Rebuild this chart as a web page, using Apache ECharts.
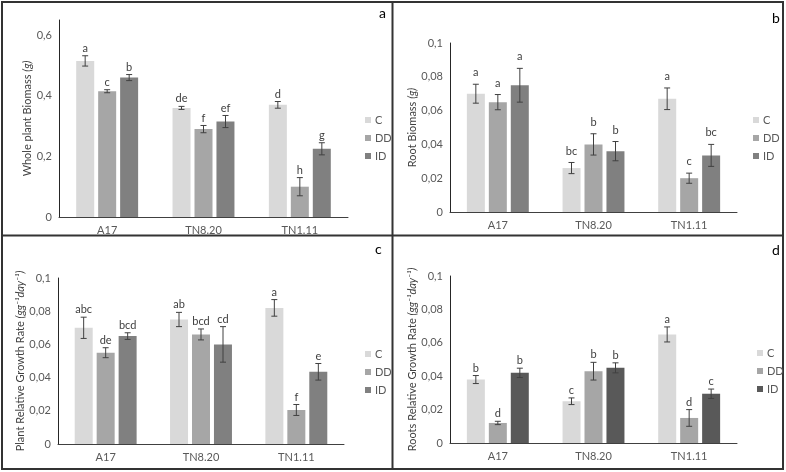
<!DOCTYPE html>
<html>
<head>
<meta charset="utf-8">
<title>Biomass and growth rate</title>
<script src="https://cdn.jsdelivr.net/npm/echarts@6/dist/echarts.min.js"></script>
<style>
  html, body { margin: 0; padding: 0; background: #fff; }
  #chart { width: 786px; height: 472px; }
</style>
</head>
<body>
<div id="chart"></div>
<script>
// categories and treatments
var categories = ['A17', 'TN8.20', 'TN1.11'];
var treatments = ['C', 'DD', 'ID'];

// a - whole plant biomass (g)
var wholeC = [0.515, 0.36, 0.37];
var wholeDD = [0.415, 0.29, 0.10];
var wholeID = [0.46, 0.315, 0.225];
var wholeErrC = [0.017, 0.005, 0.011];
var wholeErrDD = [0.005, 0.012, 0.03];
var wholeErrID = [0.01, 0.02, 0.02];
var wholeLetC = ['a', 'de', 'd'];
var wholeLetDD = ['c', 'f', 'h'];
var wholeLetID = ['b', 'ef', 'g'];

// b - root biomass (g)
var rootC = [0.07, 0.026, 0.067];
var rootDD = [0.065, 0.04, 0.02];
var rootID = [0.075, 0.036, 0.0335];
var rootErrC = [0.0056, 0.0033, 0.0064];
var rootErrDD = [0.0045, 0.0063, 0.003];
var rootErrID = [0.01, 0.0057, 0.0065];
var rootLetC = ['a', 'bc', 'a'];
var rootLetDD = ['a', 'b', 'c'];
var rootLetID = ['a', 'b', 'bc'];

// c - plant relative growth rate
var prgrC = [0.07, 0.075, 0.082];
var prgrDD = [0.055, 0.066, 0.0205];
var prgrID = [0.065, 0.06, 0.0435];
var prgrErrC = [0.0064, 0.0043, 0.005];
var prgrErrDD = [0.003, 0.0033, 0.0033];
var prgrErrID = [0.002, 0.0107, 0.005];
var prgrLetC = ['abc', 'ab', 'a'];
var prgrLetDD = ['de', 'bcd', 'f'];
var prgrLetID = ['bcd', 'cd', 'e'];

// d - roots relative growth rate
var rrgrC = [0.038, 0.025, 0.065];
var rrgrDD = [0.012, 0.043, 0.015];
var rrgrID = [0.042, 0.045, 0.0295];
var rrgrErrC = [0.0024, 0.002, 0.0045];
var rrgrErrDD = [0.001, 0.0053, 0.005];
var rrgrErrID = [0.0028, 0.003, 0.0028];
var rrgrLetC = ['b', 'c', 'a'];
var rrgrLetDD = ['d', 'b', 'd'];
var rrgrLetID = ['b', 'b', 'c'];

var fontFam = 'Lato, "Noto Sans", sans-serif';
var textGray = '#595959';
var barW = 18, barStep = 22;

var panels = [
  { name: 'Whole plant Biomass ', unit: '(g)', max: 0.65, interval: 0.2,
    grid: { left: 59, top: 20, width: 289, height: 197 }, nameGap: 26,
    legend: { left: 360, top: 109 }, tag: 'a', tagPos: [383, 15], letGap: 2,
    colors: ['#d9d9d9', '#a6a6a6', '#808080'],
    means: [wholeC, wholeDD, wholeID], errs: [wholeErrC, wholeErrDD, wholeErrID],
    lets: [wholeLetC, wholeLetDD, wholeLetID] },
  { name: 'Root Biomass ', unit: '(g)', max: 0.1, interval: 0.02,
    grid: { left: 450, top: 43, width: 287, height: 169 }, nameGap: 29,
    legend: { left: 748, top: 109 }, tag: 'b', tagPos: [776, 20], letGap: 6,
    colors: ['#d9d9d9', '#a6a6a6', '#808080'],
    means: [rootC, rootDD, rootID], errs: [rootErrC, rootErrDD, rootErrID],
    lets: [rootLetC, rootLetDD, rootLetID] },
  { name: 'Plant Relative Growth Rate ', unit: '(gg\u207B\u00B9day\u207B\u00B9)', max: 0.1, interval: 0.02,
    grid: { left: 58, top: 278, width: 286, height: 166 }, nameGap: 27,
    legend: { left: 360, top: 343 }, tag: 'c', tagPos: [379, 251], letGap: 2,
    colors: ['#d9d9d9', '#a6a6a6', '#808080'],
    means: [prgrC, prgrDD, prgrID], errs: [prgrErrC, prgrErrDD, prgrErrID],
    lets: [prgrLetC, prgrLetDD, prgrLetID] },
  { name: 'Roots Relative Growth Rate ', unit: '(gg\u207B\u00B9day\u207B\u00B9)', max: 0.1, interval: 0.02,
    grid: { left: 450, top: 276, width: 287, height: 167 }, nameGap: 28,
    legend: { left: 752, top: 342 }, tag: 'd', tagPos: [776, 252], letGap: 2,
    colors: ['#d9d9d9', '#a6a6a6', '#595959'],
    means: [rrgrC, rrgrDD, rrgrID], errs: [rrgrErrC, rrgrErrDD, rrgrErrID],
    lets: [rrgrLetC, rrgrLetDD, rrgrLetID] }
];

function labelFmt(step) {
  return function (v) {
    var r = v / step;
    if (Math.abs(r - Math.round(r)) > 1e-6) return '';
    return String(+v.toFixed(3)).replace('.', ',');
  };
}

var grids = [], xAxes = [], yAxes = [], series = [], legends = [], graphics = [];

panels.forEach(function (p, pi) {
  grids.push(p.grid);
  xAxes.push({
    type: 'category', gridIndex: pi, data: categories,
    axisLine: { lineStyle: { color: '#404040', width: 1 } },
    axisTick: { show: false },
    axisLabel: { color: textGray, fontSize: 11, fontFamily: fontFam, margin: 8 }
  });
  yAxes.push({
    type: 'value', gridIndex: pi, min: 0, max: p.max, interval: p.interval,
    splitLine: { show: false },
    axisLine: { show: true, lineStyle: { color: '#262626', width: 1 } },
    axisTick: { show: false },
    axisLabel: { color: textGray, fontSize: 11, fontFamily: fontFam, margin: 7,
      formatter: labelFmt(p.interval) },
    name: '{n|' + p.name + '}{u|' + p.unit + '}',
    nameLocation: 'middle', nameGap: p.nameGap,
    nameTextStyle: {
      rich: {
        n: { color: '#404040', fontSize: 11, fontFamily: fontFam },
        u: { color: '#404040', fontSize: 11, fontFamily: fontFam, fontStyle: 'italic' }
      }
    }
  });
  treatments.forEach(function (t, k) {
    series.push({
      type: 'bar', name: t, xAxisIndex: pi, yAxisIndex: pi,
      data: p.means[k], barWidth: barW, barGap: '22%',
      itemStyle: { color: p.colors[k] },
      emphasis: { disabled: true }
    });
  });
  treatments.forEach(function (t, k) {
    var offset = (k - 1) * barStep;
    var letters = p.lets[k];
    series.push({
      type: 'custom', name: t + '-err', xAxisIndex: pi, yAxisIndex: pi, z: 5,
      data: p.means[k].map(function (m, i) { return [i, m, p.errs[k][i]]; }),
      encode: { x: 0, y: 1 },
      renderItem: function (params, api) {
        var cat = api.value(0), m = api.value(1), e = api.value(2);
        var top = api.coord([cat, m + e]);
        var bot = api.coord([cat, m - e]);
        var x = top[0] + offset;
        var st = { stroke: '#404040', lineWidth: 1 };
        return { type: 'group', children: [
          { type: 'line', shape: { x1: x, y1: top[1], x2: x, y2: bot[1] }, style: st },
          { type: 'line', shape: { x1: x - 3, y1: top[1], x2: x + 3, y2: top[1] }, style: st },
          { type: 'line', shape: { x1: x - 3, y1: bot[1], x2: x + 3, y2: bot[1] }, style: st },
          { type: 'text', style: { text: letters[params.dataIndex], x: x, y: top[1] - p.letGap,
              align: 'center', verticalAlign: 'bottom', fill: '#404040',
              font: '11px ' + fontFam } }
        ] };
      }
    });
  });
  legends.push({
    orient: 'vertical', left: p.legend.left, top: p.legend.top,
    icon: 'rect', itemWidth: 6, itemHeight: 6, itemGap: 6,
    selectedMode: false,
    textStyle: { color: textGray, fontSize: 11, fontFamily: fontFam, lineHeight: 12, padding: [0, 0, 0, -1] },
    data: treatments.map(function (t, k) {
      return { name: t, itemStyle: { color: p.colors[k] } };
    })
  });
  graphics.push({
    type: 'text', left: p.tagPos[0] - 4, top: p.tagPos[1] - 9,
    style: { text: p.tag, fill: '#000', font: '14px ' + fontFam }
  });
});

// panel frames
var frame = { stroke: '#333', lineWidth: 2, fill: null };
graphics.push({ type: 'rect', shape: { x: 2, y: 2, width: 781, height: 467 }, style: frame, silent: true });
graphics.push({ type: 'line', shape: { x1: 392.5, y1: 2, x2: 392.5, y2: 469 }, style: frame, silent: true });
graphics.push({ type: 'line', shape: { x1: 2, y1: 235.5, x2: 783, y2: 235.5 }, style: frame, silent: true });

var chart = echarts.init(document.getElementById('chart'));
chart.setOption({
  backgroundColor: '#fff',
  animation: false,
  grid: grids,
  xAxis: xAxes,
  yAxis: yAxes,
  legend: legends,
  series: series,
  graphic: graphics
});
</script>
</body>
</html>
